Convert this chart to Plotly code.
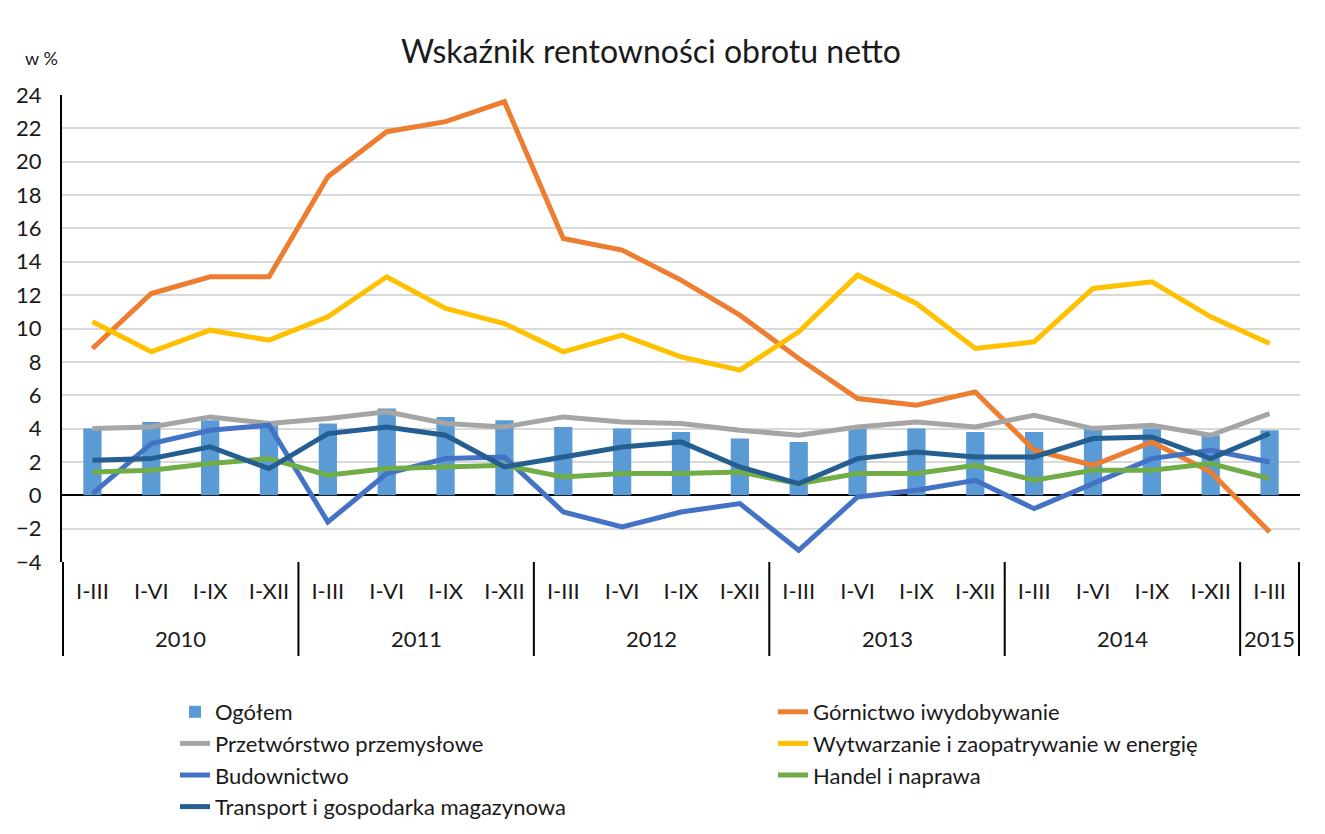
import plotly.graph_objects as go

# category axis: years and periods
years = ["2010"] * 4 + ["2011"] * 4 + ["2012"] * 4 + ["2013"] * 4 + ["2014"] * 4 + ["2015"]
periods = ["I-III", "I-VI", "I-IX", "I-XII"] * 5 + ["I-III"]

# values in %
ogolem = [4.0, 4.4, 4.5, 4.2, 4.3, 5.2, 4.7, 4.5,
          4.1, 4.0, 3.8, 3.4, 3.2, 4.0, 4.0, 3.8,
          3.8, 4.0, 4.0, 3.6, 3.9]
gornictwo = [8.8, 12.1, 13.1, 13.1, 19.1, 21.8, 22.4, 23.6,
             15.4, 14.7, 12.9, 10.8, 8.2, 5.8, 5.4, 6.2,
             2.7, 1.8, 3.2, 1.4, -2.2]
przetworstwo = [4.0, 4.1, 4.7, 4.3, 4.6, 5.0, 4.3, 4.1,
                4.7, 4.4, 4.3, 3.9, 3.6, 4.1, 4.4, 4.1,
                4.8, 4.0, 4.2, 3.6, 4.9]
wytwarzanie = [10.4, 8.6, 9.9, 9.3, 10.7, 13.1, 11.2, 10.3,
               8.6, 9.6, 8.3, 7.5, 9.8, 13.2, 11.5, 8.8,
               9.2, 12.4, 12.8, 10.7, 9.1]
budownictwo = [0.1, 3.1, 3.9, 4.2, -1.6, 1.3, 2.2, 2.3,
               -1.0, -1.9, -1.0, -0.5, -3.3, -0.1, 0.3, 0.9,
               -0.8, 0.7, 2.2, 2.7, 2.0]
handel = [1.4, 1.5, 1.9, 2.2, 1.2, 1.6, 1.7, 1.8,
          1.1, 1.3, 1.3, 1.4, 0.7, 1.3, 1.3, 1.8,
          0.9, 1.5, 1.5, 1.9, 1.0]
transport = [2.1, 2.2, 2.9, 1.6, 3.7, 4.1, 3.6, 1.7,
             2.3, 2.9, 3.2, 1.7, 0.7, 2.2, 2.6, 2.3,
             2.3, 3.4, 3.5, 2.2, 3.7]

font_family = "Lato, 'Open Sans', sans-serif"
text_color = "#1a1a1a"

# unique category per point, periods shown as tick text
cats = [f"{y} {p}" for y, p in zip(years, periods)]

# plot area size in px (used to place things below the axis)
plot_w, plot_h = 1238, 467

fig = go.Figure()

# bars for total
fig.add_trace(go.Bar(x=cats, y=ogolem, name="Ogółem",
                     marker={"color": "#5B9BD5", "line": {"width": 0}}))

# lines for sections
line_series = [
    ("Górnictwo iwydobywanie", gornictwo, "#ED7D31"),
    ("Przetwórstwo przemysłowe", przetworstwo, "#A5A5A5"),
    ("Wytwarzanie i zaopatrywanie w energię", wytwarzanie, "#FFC000"),
    ("Budownictwo", budownictwo, "#4472C4"),
    ("Handel i naprawa", handel, "#70AD47"),
    ("Transport i gospodarka magazynowa", transport, "#255E91"),
]
for name, values, color in line_series:
    fig.add_trace(go.Scatter(x=cats, y=values, name=name, mode="lines",
                             line={"color": color, "width": 5}))

# year group labels and dividers under the category labels
annotations = []
shapes = []
groups = []
for i, y in enumerate(years):
    if not groups or groups[-1][0] != y:
        groups.append([y, i, i])
    else:
        groups[-1][2] = i
for y, first, last in groups:
    annotations.append({"text": y, "xref": "x", "yref": "paper",
                        "x": (first + last) / 2, "y": -76 / plot_h,
                        "xanchor": "center", "yanchor": "middle",
                        "showarrow": False, "font": {"size": 22}})
bounds = [g[1] - 0.5 for g in groups] + [groups[-1][2] + 0.5]
for b in bounds:
    shapes.append({"type": "line", "xref": "x", "yref": "paper",
                   "x0": b, "x1": b, "y0": 0, "y1": -94 / plot_h,
                   "line": {"color": "black", "width": 2}})

# unit label
annotations.append({"text": "w %", "xref": "paper", "yref": "paper",
                    "x": -21 / plot_w, "y": 1 + 37 / plot_h,
                    "xanchor": "center", "yanchor": "middle",
                    "showarrow": False, "font": {"size": 18}})

# light frame edge on the left
shapes.append({"type": "line", "xref": "paper", "yref": "paper",
               "x0": -57 / plot_w, "x1": -57 / plot_w,
               "y0": -300 / plot_h, "y1": 1 + 120 / plot_h,
               "line": {"color": "#d9d9d9", "width": 1.5}})

fig.update_layout(
    width=1317,
    height=826,
    paper_bgcolor="white",
    plot_bgcolor="white",
    font={"family": font_family, "size": 22, "color": text_color},
    margin={"l": 54, "r": 25, "t": 87, "b": 272, "autoexpand": False},
    bargap=0.69,
    title={"text": "Wskaźnik rentowności obrotu netto",
           "xref": "container", "x": 643 / 1317, "xanchor": "center",
           "yref": "container", "y": 1 - 44 / 826, "yanchor": "middle",
           "font": {"size": 32, "color": text_color}},
    legend={"orientation": "h",
            "xref": "container", "x": 167 / 1317, "xanchor": "left",
            "yref": "container", "y": 1 - 683 / 826, "yanchor": "top",
            "entrywidth": 553, "entrywidthmode": "pixels",
            "font": {"size": 22}, "tracegroupgap": 0},
    showlegend=True,
    annotations=annotations,
    shapes=shapes,
)

fig.update_yaxes(range=[-4, 24], dtick=2, showgrid=True, gridcolor="#d9d9d9",
                 gridwidth=1.5, showline=True, linecolor="black", linewidth=2,
                 zeroline=True, zerolinecolor="black", zerolinewidth=2,
                 ticks="", tickfont={"size": 22}, automargin=False,
                 ticklabelstandoff=14)
fig.update_xaxes(type="category", tickmode="array", tickvals=cats,
                 ticktext=periods, showgrid=False, showline=False,
                 ticks="", tickfont={"size": 22}, automargin=False,
                 ticklabelstandoff=14)

fig.write_html("out.html")
